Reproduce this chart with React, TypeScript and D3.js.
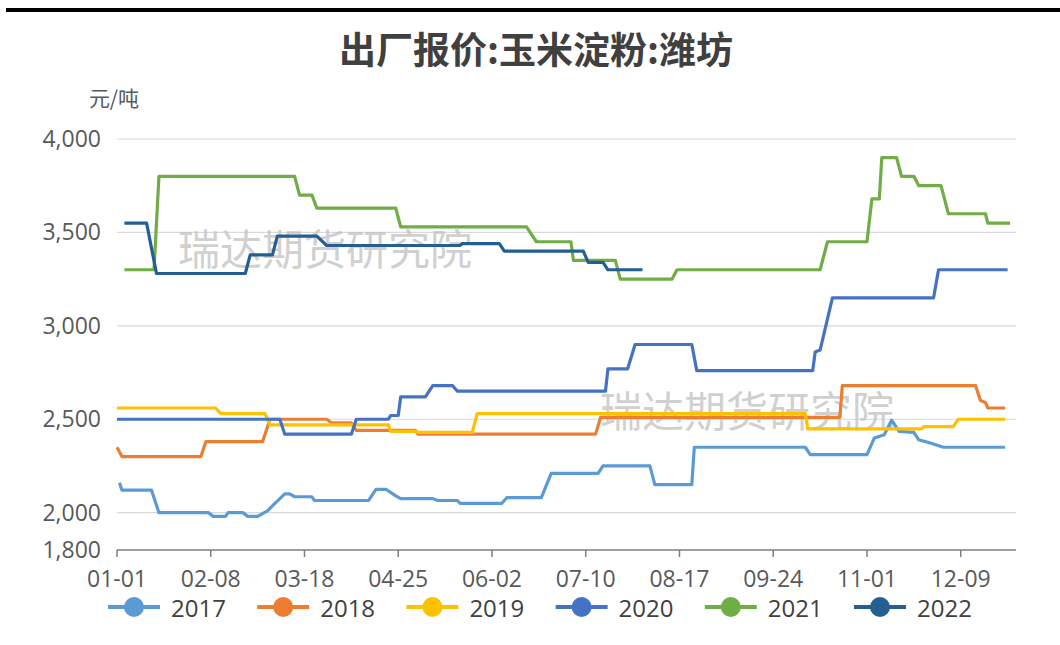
import { useMemo } from 'react';
import * as d3 from 'd3';

type Point = [string, number];

const years = ['2017', '2018', '2019', '2020', '2021', '2022'];
const colours = ['#5B9BD5', '#ED7D31', '#FFC000', '#4472C4', '#70AD47', '#255E91'];

const xTickLabels = ['01-01', '02-08', '03-18', '04-25', '06-02', '07-10', '08-17', '09-24', '11-01', '12-09'];
const yTickValues = [1800, 2000, 2500, 3000, 3500, 4000];

const s2017: Point[] = [
    ['01-02', 2160], ['01-03', 2120], ['01-15', 2120], ['01-18', 2000], ['02-07', 2000], ['02-09', 1980],
    ['02-14', 1980], ['02-15', 2000], ['02-21', 2000], ['02-23', 1980], ['02-27', 1980], ['03-03', 2010],
    ['03-06', 2050], ['03-10', 2100], ['03-12', 2100], ['03-14', 2085], ['03-21', 2085], ['03-22', 2065],
    ['04-13', 2065], ['04-16', 2125], ['04-20', 2125], ['04-24', 2090], ['04-26', 2075], ['05-09', 2075],
    ['05-11', 2065], ['05-19', 2065], ['05-20', 2050], ['06-06', 2050], ['06-08', 2080], ['06-22', 2080],
    ['06-26', 2210], ['07-15', 2210], ['07-17', 2250], ['08-05', 2250], ['08-07', 2150], ['08-22', 2150],
    ['08-23', 2350], ['10-07', 2350], ['10-09', 2310], ['11-01', 2310], ['11-04', 2400], ['11-08', 2417],
    ['11-11', 2495], ['11-14', 2435], ['11-20', 2430], ['11-22', 2390], ['11-26', 2375], ['12-02', 2350],
    ['12-27', 2350],
];
const s2018: Point[] = [
    ['01-01', 2350], ['01-03', 2300], ['02-04', 2300], ['02-06', 2380], ['03-01', 2380], ['03-04', 2500],
    ['03-27', 2500], ['03-29', 2480], ['04-06', 2480], ['04-08', 2440], ['05-02', 2440], ['05-03', 2420],
    ['07-14', 2420], ['07-16', 2510], ['10-21', 2510], ['10-22', 2680], ['12-15', 2680], ['12-17', 2600],
    ['12-19', 2590], ['12-20', 2560], ['12-27', 2560],
];
const s2019: Point[] = [
    ['01-01', 2560], ['02-10', 2560], ['02-12', 2530], ['03-02', 2530], ['03-04', 2470], ['04-21', 2470],
    ['04-22', 2435], ['05-02', 2435], ['05-03', 2430], ['05-25', 2430], ['05-27', 2530], ['10-07', 2530],
    ['10-08', 2448], ['11-23', 2448], ['11-24', 2460], ['12-06', 2460], ['12-08', 2500], ['12-27', 2500],
];
const s2020: Point[] = [
    ['01-01', 2500], ['03-08', 2500], ['03-10', 2420], ['04-06', 2420], ['04-08', 2500], ['04-21', 2500],
    ['04-22', 2520], ['04-25', 2520], ['04-26', 2620], ['05-06', 2620], ['05-09', 2680], ['05-17', 2680],
    ['05-19', 2650], ['07-18', 2650], ['07-19', 2770], ['07-27', 2770], ['07-30', 2900], ['08-22', 2900],
    ['08-24', 2760], ['10-10', 2760], ['10-11', 2860], ['10-13', 2870], ['10-18', 3150], ['11-28', 3150],
    ['11-30', 3300], ['12-28', 3300],
];
const s2021: Point[] = [
    ['01-04', 3300], ['01-16', 3300], ['01-18', 3800], ['03-14', 3800], ['03-16', 3700], ['03-21', 3700],
    ['03-23', 3630], ['04-24', 3630], ['04-26', 3530], ['06-16', 3530], ['06-20', 3450], ['07-04', 3450],
    ['07-05', 3350], ['07-22', 3350], ['07-24', 3250], ['08-14', 3250], ['08-16', 3300], ['10-13', 3300],
    ['10-16', 3450], ['11-01', 3450], ['11-03', 3680], ['11-06', 3680], ['11-07', 3900], ['11-13', 3900],
    ['11-15', 3800], ['11-20', 3800], ['11-22', 3750], ['12-01', 3750], ['12-04', 3600], ['12-19', 3600],
    ['12-20', 3550], ['12-29', 3550],
];
const s2022: Point[] = [
    ['01-04', 3550], ['01-13', 3550], ['01-17', 3280], ['02-22', 3280], ['02-24', 3380], ['03-05', 3380],
    ['03-07', 3480], ['03-23', 3480], ['03-27', 3430], ['05-20', 3430], ['05-21', 3440], ['06-05', 3440],
    ['06-07', 3400], ['07-09', 3400], ['07-11', 3340], ['07-17', 3340], ['07-19', 3300], ['08-02', 3300],
];

const seriesList = [s2017, s2018, s2019, s2020, s2021, s2022];

const WIDTH = 1060;
const HEIGHT = 645;
const margin = { top: 139, right: 44, bottom: 95, left: 117 };
const CJK_FONT = '"Noto Sans CJK SC", "Noto Sans", sans-serif';
const NUM_FONT = '"Open Sans", "Noto Sans", sans-serif';

const parseDay = d3.timeParse('%m-%d');

export default function App() {
    const xScale = useMemo(
        () =>
            d3
                .scaleTime()
                .domain([parseDay('01-01')!, parseDay('12-31')!])
                .range([margin.left, WIDTH - margin.right - 1]),
        []
    );
    const yScale = useMemo(
        () => d3.scaleLinear().domain([1800, 4000]).range([HEIGHT - margin.bottom, margin.top]),
        []
    );
    const line = useMemo(
        () =>
            d3
                .line<Point>()
                .x((d) => xScale(parseDay(d[0])!))
                .y((d) => yScale(d[1])),
        [xScale, yScale]
    );
    const fmt = d3.format(',');
    const x0 = margin.left;
    const x1 = WIDTH - margin.right;
    const yBase = yScale(1800);

    return (
        <svg
            width={WIDTH}
            height={HEIGHT}
            viewBox={`0 0 ${WIDTH} ${HEIGHT}`}
            style={{ position: 'absolute', left: 0, top: 0, background: '#fff', fontFamily: CJK_FONT }}
        >
            <rect x={0} y={0} width={WIDTH} height={HEIGHT} fill="#fff" />
            <line x1={6} x2={WIDTH} y1={10} y2={10} stroke="#000" strokeWidth={4} />
            <text x={536} y={64} textAnchor="middle" fontSize={37} fontWeight="bold" fill="#404040">
                出厂报价:玉米淀粉:潍坊
            </text>
            <text x={114} y={106} textAnchor="middle" fontSize={21} fill="#595959">
                元/吨
            </text>

            {/* grid + y labels */}
            {yTickValues.map((v) => (
                <g key={v}>
                    {v !== 1800 && (
                        <line x1={x0} x2={x1} y1={yScale(v)} y2={yScale(v)} stroke="#d9d9d9" strokeWidth={1.2} />
                    )}
                    <text
                        x={101}
                        y={yScale(v) + 8}
                        textAnchor="end"
                        fontSize={23}
                        fill="#595959"
                        fontFamily={NUM_FONT}
                    >
                        {fmt(v)}
                    </text>
                </g>
            ))}

            {/* x axis */}
            <line x1={x0} x2={x1} y1={yBase} y2={yBase} stroke="#7f7f7f" strokeWidth={1.5} />
            {xTickLabels.map((t) => {
                const x = xScale(parseDay(t)!);
                return (
                    <g key={t}>
                        <line x1={x} x2={x} y1={yBase} y2={yBase + 7} stroke="#7f7f7f" strokeWidth={1.5} />
                        <text
                            x={x}
                            y={587}
                            textAnchor="middle"
                            fontSize={23}
                            fill="#595959"
                            fontFamily={NUM_FONT}
                        >
                            {t}
                        </text>
                    </g>
                );
            })}

            {/* watermarks */}
            <text x={178} y={265} fontSize={42} fill="#c4c4c4" fillOpacity={0.8}>
                瑞达期货研究院
            </text>
            <text x={600} y={427} fontSize={42} fill="#c4c4c4" fillOpacity={0.8}>
                瑞达期货研究院
            </text>

            {seriesList.map((s, i) => (
                <path
                    key={years[i]}
                    d={line(s) ?? ''}
                    fill="none"
                    stroke={colours[i]}
                    strokeWidth={3.2}
                    strokeLinejoin="round"
                />
            ))}

            {/* legend */}
            {years.map((y, i) => {
                const cx = 134 + i * 149.2;
                return (
                    <g key={y}>
                        <line x1={cx - 26} x2={cx + 26} y1={607} y2={607} stroke={colours[i]} strokeWidth={4} />
                        <circle cx={cx} cy={607} r={10} fill={colours[i]} />
                        <text x={cx + 37} y={617} fontSize={24} fill="#404040" fontFamily={NUM_FONT}>
                            {y}
                        </text>
                    </g>
                );
            })}
        </svg>
    );
}
